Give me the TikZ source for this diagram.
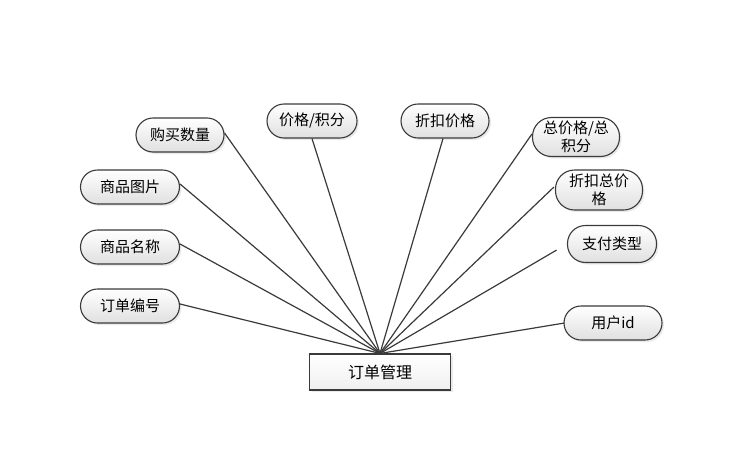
\documentclass[tikz,border=0pt]{standalone}
\usepackage{fontspec}
\newfontfamily\cjk{Noto Sans CJK SC}
\usetikzlibrary{shadows}
\definecolor{edge}{HTML}{3A3A3A}
\definecolor{shade}{HTML}{E0E0E0}
\begin{document}
\begin{tikzpicture}[x=1pt,y=-1pt,
  attr/.style={rectangle, rounded corners=17pt, draw=edge, line width=1.1pt,
    top color=white, bottom color=shade, minimum height=34pt,
    inner xsep=2pt, inner ysep=1pt,
    drop shadow={shadow xshift=2pt,shadow yshift=-2pt,fill=black!16},
    font=\cjk\fontsize{15}{17}\selectfont, align=center},
  mainbox/.style={rectangle, draw=edge, line width=1.1pt,
    top color=white, bottom color=black!6,
    minimum width=141pt, minimum height=36pt,
    drop shadow={shadow xshift=2pt,shadow yshift=-2pt,fill=black!16},
    font=\cjk\fontsize{16}{18}\selectfont},
  link/.style={draw=edge, line width=1.2pt}]
\useasboundingbox (0,0) rectangle (744,450);

\node[mainbox] (main) at (380,372) {订单管理};

\node[attr, minimum width=88pt] (qty) at (180,135) {购买数量};
\node[attr, minimum width=90pt] (price) at (312,121) {价格/积分};
\node[attr, minimum width=88pt] (disc) at (445,121) {折扣价格};
\node[attr, minimum width=87pt, minimum height=39pt, rounded corners=19pt, inner ysep=0pt,
      font=\cjk\fontsize{15}{18}\selectfont] (total) at (576,137) {总价格/总\\积分};
\node[attr, minimum width=87pt, minimum height=40pt, rounded corners=19pt, inner ysep=0pt,
      font=\cjk\fontsize{15}{18}\selectfont] (dtotal) at (599,190) {折扣总价\\格};
\node[attr, minimum width=89pt, minimum height=37pt, rounded corners=18pt] (pay) at (612,244) {支付类型};
\node[attr, minimum width=98pt] (user) at (613,323) {用户id};
\node[attr, minimum width=99pt] (img) at (130,187) {商品图片};
\node[attr, minimum width=99pt] (name) at (130,247) {商品名称};
\node[attr, minimum width=99pt] (oid) at (130,306) {订单编号};

\draw[link] (main.north) -- ([yshift=2pt]qty.east);
\draw[link] (main.north) -- (price.south);
\draw[link] (main.north) -- ([xshift=-2pt]disc.south);
\draw[link] (main.north) -- ([yshift=3pt]total.west);
\draw[link] (main.north) -- ([xshift=-1pt,yshift=3pt]dtotal.west);
\draw[link, shorten >=12pt] (main.north) -- (pay.west);
\draw[link] (main.north) -- ([xshift=1pt]user.west);
\draw[link] (main.north) -- ([yshift=3pt]img.east);
\draw[link] (main.north) -- ([yshift=3pt]name.east);
\draw[link] (main.north) -- ([yshift=2pt]oid.east);
\end{tikzpicture}
\end{document}
